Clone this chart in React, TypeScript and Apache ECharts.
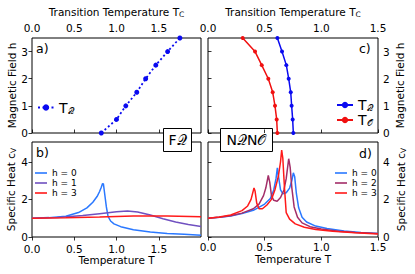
import React, { useEffect, useRef } from "react";
import * as echarts from "echarts";

const FONT = '"DejaVu Sans", sans-serif';

// Panel a (FQ): transition temperature vs field
const hLevels = [0, 0.5, 1, 1.5, 2, 2.5, 3, 3.5];
const tcQ_F = [0.82, 1.0, 1.11, 1.24, 1.345, 1.465, 1.605, 1.75];
// Panel c (NQNO)
const tcQ_N = [0.753, 0.747, 0.738, 0.73, 0.712, 0.691, 0.653, 0.612];
const tcO_N = [0.612, 0.606, 0.591, 0.571, 0.532, 0.474, 0.415, 0.306];

// Panel b specific heat
const tB0 = [0, 0.2, 0.4, 0.55, 0.65, 0.72, 0.77, 0.8, 0.82, 0.835, 0.845, 0.86, 0.88, 0.9, 0.93, 0.97, 1.05, 1.2, 1.4, 1.6, 1.8, 2.0];
const cvB0 = [1.0, 1.03, 1.1, 1.3, 1.55, 1.85, 2.15, 2.42, 2.65, 2.84, 2.82, 2.3, 1.6, 1.1, 0.85, 0.7, 0.55, 0.39, 0.27, 0.19, 0.14, 0.09];
const tB1 = [0, 0.3, 0.6, 0.8, 1.0, 1.13, 1.25, 1.4, 1.55, 1.7, 1.85, 2.0];
const cvB1 = [1.0, 1.04, 1.14, 1.24, 1.34, 1.38, 1.33, 1.17, 0.97, 0.8, 0.67, 0.56];
const tB3 = [0, 0.4, 0.8, 1.2, 1.6, 2.0];
const cvB3 = [1.0, 1.02, 1.06, 1.11, 1.12, 1.08];

// Panel d specific heat
const tD0 = [0, 0.1, 0.2, 0.3, 0.4, 0.5, 0.55, 0.58, 0.6, 0.612, 0.62, 0.64, 0.66, 0.69, 0.72, 0.74, 0.753, 0.765, 0.78, 0.8, 0.83, 0.87, 0.95, 1.05, 1.2, 1.35, 1.5];
const cvD0 = [1.0, 1.05, 1.12, 1.25, 1.42, 1.75, 2.05, 2.5, 3.1, 3.68, 3.3, 2.5, 2.3, 2.35, 2.6, 3.0, 3.41, 3.2, 2.3, 1.55, 1.05, 0.8, 0.58, 0.45, 0.32, 0.24, 0.18];
const tD2 = [0, 0.1, 0.2, 0.3, 0.4, 0.45, 0.49, 0.51, 0.532, 0.545, 0.56, 0.58, 0.61, 0.64, 0.67, 0.69, 0.712, 0.725, 0.74, 0.76, 0.79, 0.83, 0.9, 1.0, 1.15, 1.3, 1.5];
const cvD2 = [1.0, 1.05, 1.13, 1.27, 1.5, 1.75, 2.2, 2.6, 3.27, 2.9, 2.2, 1.95, 1.9, 2.1, 2.5, 3.1, 4.16, 3.7, 2.6, 1.6, 1.05, 0.75, 0.55, 0.42, 0.31, 0.24, 0.18];
const tD3 = [0, 0.1, 0.2, 0.3, 0.35, 0.38, 0.395, 0.406, 0.415, 0.43, 0.45, 0.48, 0.52, 0.56, 0.59, 0.62, 0.64, 0.65, 0.66, 0.675, 0.69, 0.72, 0.77, 0.85, 0.95, 1.1, 1.3, 1.5];
const cvD3 = [1.0, 1.06, 1.17, 1.4, 1.65, 2.0, 2.35, 2.61, 2.45, 1.8, 1.5, 1.5, 1.7, 2.0, 2.5, 3.2, 4.0, 4.62, 4.2, 2.6, 1.3, 0.95, 0.7, 0.52, 0.4, 0.3, 0.22, 0.16];

const C_Q = "#0a0af0";
const C_O = "#f01010";
const C_H0 = "#2a78ff";
const C_H1 = "#7050c0";
const C_H2 = "#a32e68";
const C_H3 = "#ff1a1a";

const zip = (xs: number[], ys: number[]) => xs.map((x, i) => [x, ys[i]]);

const legendNames: Record<string, string> = {
  TQa: "{t|T}{s|𝒬}",
  TQc: "{t|T}{s|𝒬}",
  TOc: "{t|T}{s|𝒪}",
};

export default function App() {
  const ref = useRef<HTMLDivElement>(null);
  useEffect(() => {
    if (!ref.current) return;
    const chart = echarts.init(ref.current, undefined, { renderer: "svg" });
    const tickLabel = { fontFamily: FONT, fontSize: 10.5, color: "#000", lineHeight: 9 };
    const nameStyle = {
      fontFamily: FONT,
      fontSize: 10.5,
      color: "#000",
      rich: {
        m: { fontFamily: FONT, fontSize: 10.5, color: "#000" },
        s: { fontFamily: FONT, fontSize: 7.5, color: "#000", padding: [5, 0, 0, 0] },
      },
    };
    const tick = { show: true, length: 3.5, lineStyle: { color: "#000", width: 0.8 } };
    const xBase = (gi: number, pos: string, max: number, name: string, gap: number, margin: number, hideMax: boolean) => ({
      type: "value",
      gridIndex: gi,
      position: pos,
      min: 0,
      max,
      interval: 0.5,
      axisLine: { show: false },
      axisTick: tick,
      splitLine: { show: false },
      axisLabel: { ...tickLabel, margin, formatter: (v: number) => v.toFixed(1), showMaxLabel: !hideMax, showMinLabel: true },
      name,
      nameLocation: "middle",
      nameGap: gap,
      nameTextStyle: nameStyle,
    });
    const yBase = (gi: number, pos: string, max: number, interval: number, name: string, gap: number) => ({
      type: "value",
      gridIndex: gi,
      position: pos,
      min: 0,
      max,
      interval,
      axisLine: { show: false },
      axisTick: tick,
      splitLine: { show: false },
      axisLabel: { ...tickLabel, margin: pos === "left" ? 4 : 5, showMaxLabel: false, formatter: (v: number) => String(v) },
      name,
      nameLocation: "middle",
      nameRotate: 90,
      nameGap: gap,
      nameTextStyle: nameStyle,
    });
    const topName = "{m|Transition Temperature T}{s|C}";
    const botName = "{m|Temperature T}";
    const hName = "{m|Magnetic Field h}";
    const cvName = "{m|Specific Heat c}{s|V}";
    const gridStyle = { show: true, borderColor: "#000", borderWidth: 1, backgroundColor: "#fff", containLabel: false };
    const legendText = {
      fontFamily: FONT,
      color: "#000",
      rich: {
        t: { fontFamily: FONT, fontSize: 14, color: "#000", lineHeight: 12.7 },
        s: { fontFamily: FONT, fontSize: 9, color: "#000", padding: [6, 0, 0, 0], lineHeight: 12.7 },
      },
    };
    const hLegendText = { fontFamily: FONT, fontSize: 9, color: "#000", lineHeight: 10 };
    const curve = (name: string, xi: number, xs: number[], ys: number[], color: string) => ({
      type: "line",
      name,
      xAxisIndex: xi,
      yAxisIndex: xi,
      data: zip(xs, ys),
      symbol: "none",
      smooth: false,
      clip: true,
      color,
      lineStyle: { color, width: 1.5 },
    });
    const option: any = {
      animation: false,
      backgroundColor: "#fff",
      grid: [
        { left: 32, top: 38, width: 169, height: 95, ...gridStyle },
        { left: 32, top: 142, width: 169, height: 95, ...gridStyle },
        { left: 208, top: 38, width: 170, height: 95, ...gridStyle },
        { left: 208, top: 142, width: 170, height: 95, ...gridStyle },
      ],
      xAxis: [
        xBase(0, "top", 2, topName, 19.5, 6, true),
        xBase(1, "bottom", 2, botName, 15, 7, true),
        xBase(2, "top", 1.5, topName, 19.5, 6, false),
        xBase(3, "bottom", 1.5, botName, 15, 5.5, false),
      ],
      yAxis: [
        yBase(0, "left", 3.5, 1, hName, 14),
        yBase(1, "left", 5.05, 2, cvName, 14),
        yBase(2, "right", 3.5, 1, hName, 16),
        yBase(3, "right", 5.05, 2, cvName, 16),
      ],
      legend: [
        {
          data: ["TQa"],
          left: 37,
          top: 100,
          padding: 0,
          itemWidth: 16,
          itemHeight: 8,
          selectedMode: false,
          formatter: (n: string) => legendNames[n],
          textStyle: legendText,
        },
        {
          data: ["TQc", "TOc"],
          orient: "vertical",
          left: 336,
          top: 97.5,
          padding: 0,
          itemWidth: 16,
          itemHeight: 8,
          itemGap: 0,
          selectedMode: false,
          formatter: (n: string) => legendNames[n],
          textStyle: legendText,
        },
        {
          data: ["h0b", "h1b", "h3b"],
          orient: "vertical",
          left: 35,
          top: 168,
          padding: 0,
          icon: "rect",
          itemWidth: 12,
          itemHeight: 1.6,
          itemGap: 0,
          selectedMode: false,
          formatter: (n: string) => "h = " + n.charAt(1),
          textStyle: hLegendText,
        },
        {
          data: ["h0d", "h2d", "h3d"],
          orient: "vertical",
          left: 335,
          top: 168,
          padding: 0,
          icon: "rect",
          itemWidth: 12,
          itemHeight: 1.6,
          itemGap: 0,
          selectedMode: false,
          formatter: (n: string) => "h = " + n.charAt(1),
          textStyle: hLegendText,
        },
      ],
      series: [
        {
          type: "line",
          name: "TQa",
          xAxisIndex: 0,
          yAxisIndex: 0,
          data: zip(tcQ_F, hLevels),
          symbol: "circle",
          symbolSize: 5,
          clip: true,
          color: C_Q,
          itemStyle: { color: C_Q },
          lineStyle: { color: C_Q, width: 1.8, type: [2, 2.5] },
        },
        curve("h0b", 1, tB0, cvB0, C_H0),
        curve("h1b", 1, tB1, cvB1, C_H1),
        curve("h3b", 1, tB3, cvB3, C_H3),
        {
          type: "line",
          name: "TQc",
          xAxisIndex: 2,
          yAxisIndex: 2,
          data: zip(tcQ_N, hLevels),
          symbol: "circle",
          symbolSize: 4,
          clip: true,
          color: C_Q,
          itemStyle: { color: C_Q },
          lineStyle: { color: C_Q, width: 1.5 },
        },
        {
          type: "line",
          name: "TOc",
          xAxisIndex: 2,
          yAxisIndex: 2,
          data: zip(tcO_N, hLevels),
          symbol: "circle",
          symbolSize: 4,
          clip: true,
          color: C_O,
          itemStyle: { color: C_O },
          lineStyle: { color: C_O, width: 1.5 },
        },
        curve("h0d", 3, tD0, cvD0, C_H0),
        curve("h2d", 3, tD2, cvD2, C_H2),
        curve("h3d", 3, tD3, cvD3, C_H3),
      ],
      graphic: [
        { type: "text", left: 36, top: 42, z: 100, style: { text: "a)", font: `12.5px ${FONT}`, fill: "#000" } },
        { type: "text", left: 36, top: 146, z: 100, style: { text: "b)", font: `12.5px ${FONT}`, fill: "#000" } },
        { type: "text", left: 359, top: 42, z: 100, style: { text: "c)", font: `12.5px ${FONT}`, fill: "#000" } },
        { type: "text", left: 359, top: 147, z: 100, style: { text: "d)", font: `12.5px ${FONT}`, fill: "#000" } },
        {
          type: "group",
          left: 163,
          top: 128,
          z: 100,
          children: [
            { type: "rect", shape: { x: 0, y: 0, width: 28, height: 23 }, style: { fill: "#fff", stroke: "#000", lineWidth: 1 } },
            { type: "text", x: 14, y: 11.5, style: { text: "F𝒬", font: `14px ${FONT}`, fill: "#000", align: "center", verticalAlign: "middle" } },
          ],
        },
        {
          type: "group",
          left: 220,
          top: 128,
          z: 100,
          children: [
            { type: "rect", shape: { x: 0, y: 0, width: 52, height: 23 }, style: { fill: "#fff", stroke: "#000", lineWidth: 1 } },
            { type: "text", x: 26, y: 11.5, style: { text: "N𝒬N𝒪", font: `14px ${FONT}`, fill: "#000", align: "center", verticalAlign: "middle" } },
          ],
        },
      ],
    };
    chart.setOption(option);
    return () => chart.dispose();
  }, []);
  return <div ref={ref} style={{ position: "fixed", left: 0, top: 0, width: 415, height: 274 }} />;
}
